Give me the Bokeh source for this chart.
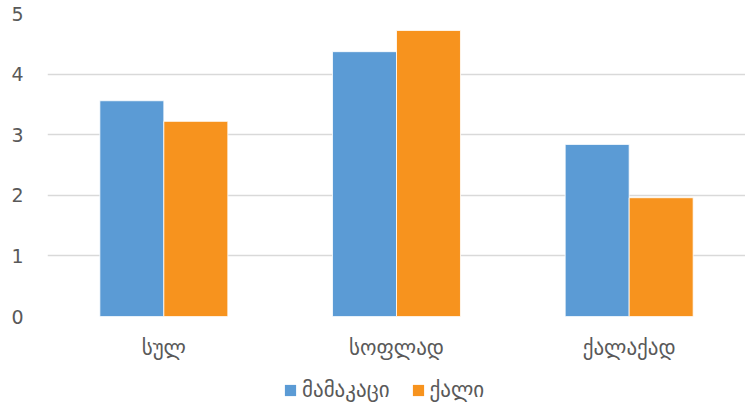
from bokeh.plotting import figure
from bokeh.layouts import column
from bokeh.models import FactorRange, Range1d, Legend, LegendItem, ColumnDataSource, FixedTicker
from bokeh.transform import dodge
from bokeh.embed import file_html
from bokeh.resources import INLINE

categories = ["სულ", "სოფლად", "ქალაქად"]
series_names = ["მამაკაცი", "ქალი"]
men = [3.56, 4.37, 2.84]
women = [3.22, 4.72, 1.96]
y_ticks = [0, 1, 2, 3, 4, 5]

FONT = "DejaVu Sans"
GREY = "#595959"
BLUE = "#5B9BD5"
ORANGE = "#F7931E"

src = ColumnDataSource(dict(cat=categories, men=men, women=women))

p = figure(x_range=FactorRange(*categories, range_padding=0), y_range=Range1d(0, 5),
           width=745, height=366, output_backend="svg", toolbar_location=None,
           min_border_left=47, min_border_right=0, min_border_top=13, min_border_bottom=50)
p.outline_line_color = None

p.vbar(x=dodge("cat", -0.1375, range=p.x_range), top="men", width=0.275, source=src,
       fill_color=BLUE, line_color="white", line_width=0.8)
p.vbar(x=dodge("cat", 0.1375, range=p.x_range), top="women", width=0.275, source=src,
       fill_color=ORANGE, line_color="white", line_width=0.8)

p.xgrid.grid_line_color = None
p.ygrid.grid_line_color = "#D9D9D9"
p.ygrid.grid_line_width = 1.5
p.yaxis.ticker = FixedTicker(ticks=y_ticks)

for ax in (p.xaxis[0], p.yaxis[0]):
    ax.axis_line_color = None
    ax.major_tick_line_color = None
    ax.minor_tick_line_color = None
    ax.major_label_text_color = GREY
    ax.major_label_text_font = FONT
p.yaxis.major_label_text_font_size = "19px"
p.xaxis.major_label_text_font_size = "21px"
p.yaxis.major_label_standoff = 18
p.xaxis.major_label_standoff = 13

# legend strip below the chart
q = figure(x_range=p.x_range, y_range=Range1d(100, 101),
           width=745, height=46, output_backend="svg", toolbar_location=None,
           x_axis_location=None, y_axis_location=None,
           min_border_left=47, min_border_right=0, min_border_top=0, min_border_bottom=0)
q.outline_line_color = None
q.grid.grid_line_color = None
q1 = q.vbar(x=dodge("cat", -0.1375, range=q.x_range), top="men", width=0.275, source=src,
            fill_color=BLUE, line_color=None)
q2 = q.vbar(x=dodge("cat", 0.1375, range=q.x_range), top="women", width=0.275, source=src,
            fill_color=ORANGE, line_color=None)

legend = Legend(items=[LegendItem(label=series_names[0], renderers=[q1]),
                       LegendItem(label=series_names[1], renderers=[q2])],
                orientation="horizontal", location=(236, 10),
                label_text_font=FONT, label_text_font_size="21px", label_text_color=GREY,
                glyph_width=14, glyph_height=14, spacing=21, border_line_color=None,
                background_fill_alpha=0, margin=0, padding=0, label_standoff=5)
q.add_layout(legend, "center")

open("out.html", "w").write(file_html(column(p, q, spacing=0), INLINE))
